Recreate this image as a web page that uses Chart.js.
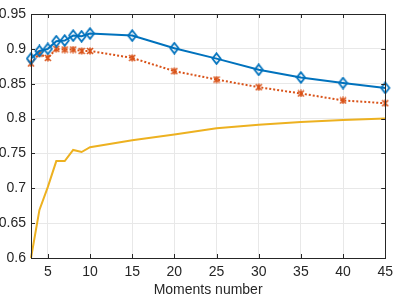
<!DOCTYPE html>
<html>
<head>
<meta charset="utf-8">
<script src="https://cdn.jsdelivr.net/npm/chart.js@4"></script>
<style>
  html, body { margin: 0; padding: 0; background: #fff; }
  #wrap { width: 399px; height: 299px; }
</style>
</head>
<body>
<div id="wrap"><canvas id="chart" width="399" height="299"></canvas></div>
<script>
// data
const momentsX = [3, 4, 5, 6, 7, 8, 9, 10, 15, 20, 25, 30, 35, 40, 45];
const blueVals = [0.886, 0.897, 0.900, 0.911, 0.912, 0.919, 0.918, 0.922, 0.919, 0.901, 0.886, 0.870, 0.859, 0.851, 0.844];
const orangeVals = [0.879, 0.893, 0.887, 0.900, 0.899, 0.899, 0.897, 0.897, 0.887, 0.868, 0.856, 0.845, 0.836, 0.826, 0.822];
const yellowVals = [0.600, 0.669, 0.702, 0.739, 0.739, 0.755, 0.752, 0.759, 0.769, 0.777, 0.786, 0.791, 0.795, 0.798, 0.800];
const xTicks = [5, 10, 15, 20, 25, 30, 35, 40, 45];
const yTicks = [0.6, 0.65, 0.7, 0.75, 0.8, 0.85, 0.9, 0.95];

const BLUE = '#0072BD';
const ORANGE = '#D95319';
const YELLOW = '#EDB120';
const AXIS = '#262626';

function toPoints(vals) {
    return momentsX.map((x, i) => ({ x: x, y: vals[i] }));
}

// hollow diamond like matlab 'd'
function diamondMarker() {
    const c = document.createElement('canvas');
    c.width = 11; c.height = 13;
    const g = c.getContext('2d');
    g.strokeStyle = BLUE;
    g.lineWidth = 1.8;
    g.beginPath();
    g.moveTo(5.5, 1.2);
    g.lineTo(9.6, 6.5);
    g.lineTo(5.5, 11.8);
    g.lineTo(1.4, 6.5);
    g.closePath();
    g.stroke();
    return c;
}

// small star like matlab '*'
function starMarker() {
    const c = document.createElement('canvas');
    c.width = 8; c.height = 8;
    const g = c.getContext('2d');
    g.strokeStyle = ORANGE;
    g.lineWidth = 1.6;
    g.beginPath();
    g.moveTo(1, 1); g.lineTo(7, 7);
    g.moveTo(7, 1); g.lineTo(1, 7);
    g.moveTo(4, 0.5); g.lineTo(4, 7.5);
    g.stroke();
    return c;
}

// box + inward ticks (matlab style)
const boxPlugin = {
    id: 'box',
    afterDraw(chart) {
        const ctx = chart.ctx;
        const a = chart.chartArea;
        const xs = chart.scales.x, ys = chart.scales.y;
        ctx.save();
        ctx.strokeStyle = AXIS;
        ctx.lineWidth = 1;
        ctx.strokeRect(Math.round(a.left) + 0.5, Math.round(a.top) + 0.5,
            Math.round(a.right - a.left), Math.round(a.bottom - a.top));
        ctx.beginPath();
        xTicks.forEach(v => {
            const px = Math.round(xs.getPixelForValue(v)) + 0.5;
            ctx.moveTo(px, a.bottom); ctx.lineTo(px, a.bottom - 4);
            ctx.moveTo(px, a.top); ctx.lineTo(px, a.top + 4);
        });
        yTicks.forEach(v => {
            const py = Math.round(ys.getPixelForValue(v)) + 0.5;
            ctx.moveTo(a.left, py); ctx.lineTo(a.left + 4, py);
            ctx.moveTo(a.right, py); ctx.lineTo(a.right - 4, py);
        });
        ctx.stroke();
        ctx.restore();
    }
};

const ctx = document.getElementById('chart').getContext('2d');
new Chart(ctx, {
    type: 'line',
    data: {
        datasets: [
            {
                data: toPoints(blueVals),
                borderColor: BLUE,
                borderWidth: 2,
                pointStyle: diamondMarker(),
                clip: false
            },
            {
                data: toPoints(orangeVals),
                borderColor: ORANGE,
                borderWidth: 2,
                borderDash: [2, 2],
                pointStyle: starMarker(),
                clip: false
            },
            {
                data: toPoints(yellowVals),
                borderColor: YELLOW,
                borderWidth: 2,
                pointRadius: 0,
                clip: false
            }
        ]
    },
    options: {
        responsive: false,
        animation: false,
        events: [],
        layout: { padding: { left: 0, top: 14, right: 7, bottom: 0 } },
        plugins: { legend: { display: false }, tooltip: { enabled: false } },
        elements: { line: { tension: 0 } },
        scales: {
            x: {
                type: 'linear',
                min: 3,
                max: 45,
                afterBuildTicks: s => { s.ticks = xTicks.map(v => ({ value: v })); },
                afterFit: s => { s.height = 41; },
                grid: { color: '#e8e8e8', drawTicks: false },
                border: { display: false },
                ticks: {
                    color: AXIS,
                    padding: 6,
                    maxRotation: 0,
                    font: { family: 'Liberation Sans', size: 14 }
                },
                title: {
                    display: true,
                    text: 'Moments number',
                    color: AXIS,
                    padding: { top: 0, bottom: 0 },
                    font: { family: 'Liberation Sans', size: 14 }
                }
            },
            y: {
                min: 0.6,
                max: 0.95,
                afterBuildTicks: s => { s.ticks = yTicks.map(v => ({ value: v })); },
                afterFit: s => { s.width = 31; },
                grid: { color: '#e8e8e8', drawTicks: false },
                border: { display: false },
                ticks: {
                    color: AXIS,
                    padding: 5,
                    font: { family: 'Liberation Sans', size: 14 },
                    callback: v => String(+v.toFixed(2))
                }
            }
        }
    },
    plugins: [boxPlugin]
});
</script>
</body>
</html>
